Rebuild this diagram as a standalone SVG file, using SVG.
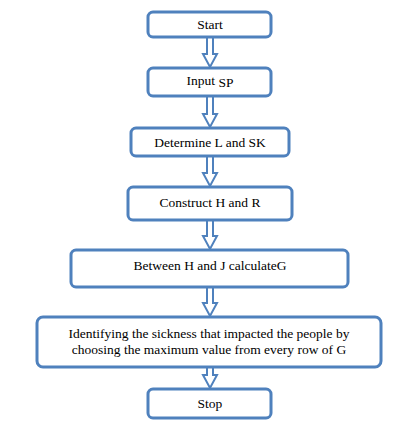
<svg xmlns="http://www.w3.org/2000/svg" width="409" height="424" viewBox="0 0 409 424">
<style>
.box{fill:#fff;stroke:#4F81BD;stroke-width:3}
.arr{fill:#fff;stroke:#4F81BD;stroke-width:2;stroke-linejoin:miter}
text{font-family:"Liberation Serif","Times New Roman",serif;font-size:13.5px;fill:#000;text-anchor:middle}
</style>
<rect width="409" height="424" fill="#fff"/>
<g id="connectors">
<path class="arr" d="M207,36 H213 V54 H217 L210,67 L203,54 H207 Z"/>
<path class="arr" d="M207,96 H213 V114 H217 L210,127 L203,114 H207 Z"/>
<path class="arr" d="M207,155 H213 V173 H217 L210,186 L203,173 H207 Z"/>
<path class="arr" d="M207,219 H213 V236 H217 L210,249 L203,236 H207 Z"/>
<path class="arr" d="M207,286 H213 V303 H217 L210,316 L203,303 H207 Z"/>
<path class="arr" d="M207,366 H213 V375 H217 L210,388 L203,375 H207 Z"/>
</g>
<g id="start"><rect class="box" x="148" y="12" width="123" height="25" rx="5"/><text x="210" y="29">Start</text></g>
<g id="input"><rect class="box" x="148" y="68" width="123" height="28" rx="5"/><text x="210" y="85">Input <tspan dy="2">SP</tspan></text></g>
<g id="determine"><rect class="box" x="131" y="128" width="158" height="28" rx="5"/><text x="210" y="147">Determine L and SK</text></g>
<g id="construct"><rect class="box" x="128" y="187" width="164" height="33" rx="5"/><text x="210" y="207">Construct H and R</text></g>
<g id="between"><rect class="box" x="71" y="250" width="277" height="37" rx="5"/><text x="210" y="270">Between H and J calculateG</text></g>
<g id="identify"><rect class="box" x="37" y="317" width="344" height="50" rx="6"/><text x="209" y="338">Identifying the sickness that impacted the people by</text><text x="209" y="354">choosing the maximum value from every row of G</text></g>
<g id="stop"><rect class="box" x="148" y="389" width="123" height="29" rx="5"/><text x="210" y="408">Stop</text></g>
</svg>
